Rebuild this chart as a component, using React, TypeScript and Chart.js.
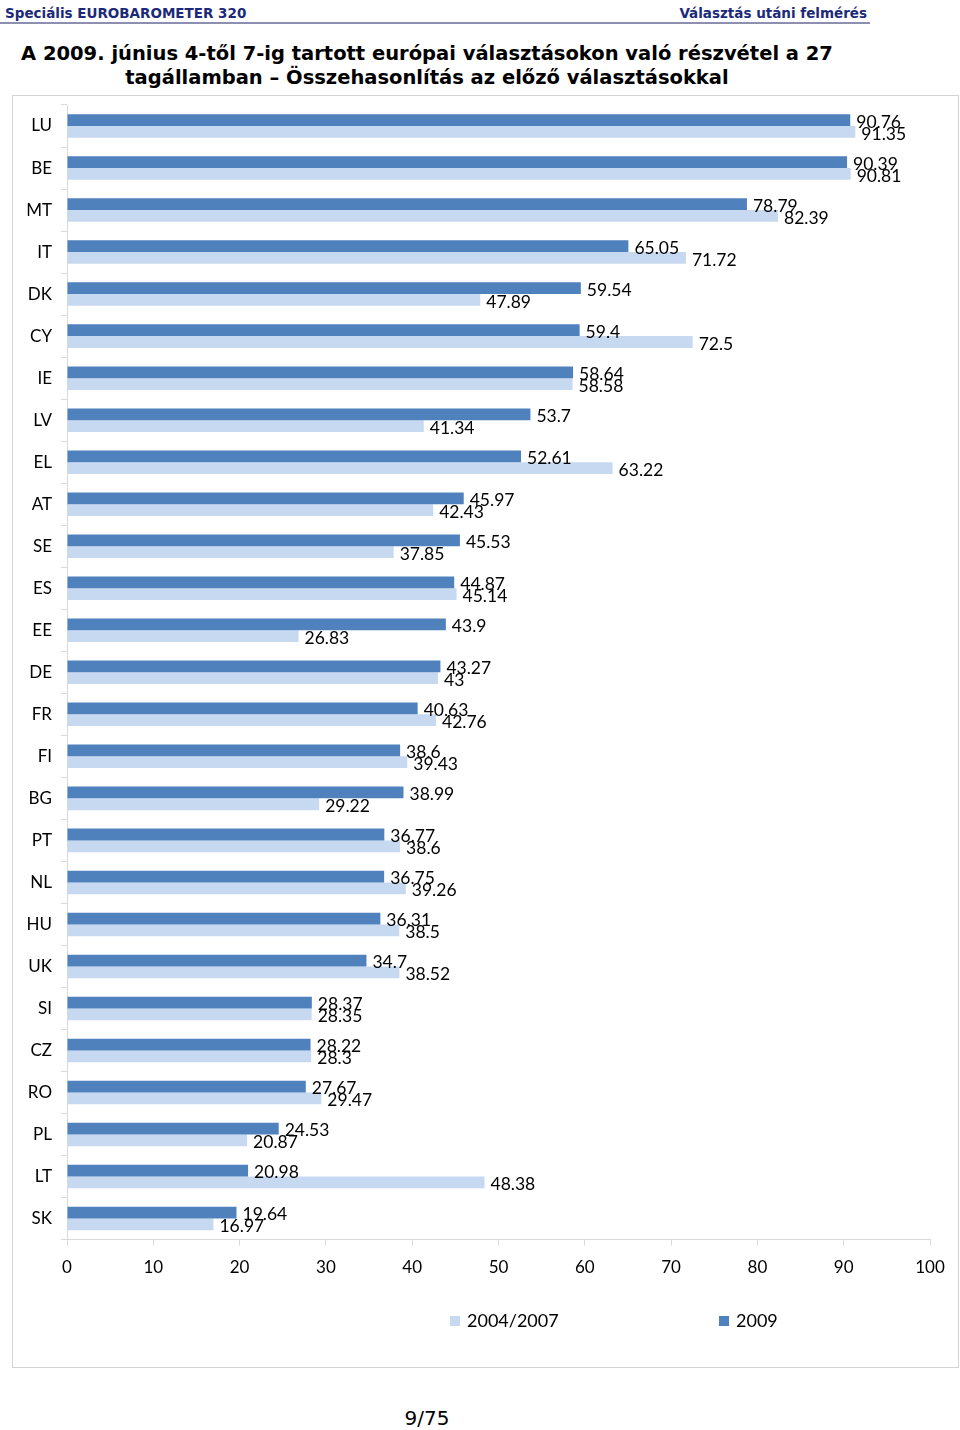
import React, { useEffect, useRef } from "react";
import { Chart, registerables } from "chart.js";

Chart.register(...registerables);

const countries = ["LU","BE","MT","IT","DK","CY","IE","LV","EL","AT","SE","ES","EE","DE","FR","FI","BG","PT","NL","HU","UK","SI","CZ","RO","PL","LT","SK"];
const values2009 = [90.76,90.39,78.79,65.05,59.54,59.4,58.64,53.7,52.61,45.97,45.53,44.87,43.9,43.27,40.63,38.6,38.99,36.77,36.75,36.31,34.7,28.37,28.22,27.67,24.53,20.98,19.64];
const valuesPrev = [91.35,90.81,82.39,71.72,47.89,72.5,58.58,41.34,63.22,42.43,37.85,45.14,26.83,43,42.76,39.43,29.22,38.6,39.26,38.5,38.52,28.35,28.3,29.47,20.87,48.38,16.97];
const seriesLabels = ["2009", "2004/2007"];
const seriesColors = ["#4F81BD", "#C6D9F1"];
const xMin = 0;
const xMax = 100;
const xStep = 10;

const FONT = "Lato, 'Open Sans', sans-serif";

const valueLabelPlugin = {
  id: "valueLabels",
  afterDatasetsDraw(chart: any) {
    const ctx = chart.ctx;
    ctx.save();
    ctx.font = `17.5px ${FONT}`;
    ctx.fillStyle = "#000";
    ctx.textAlign = "left";
    ctx.textBaseline = "middle";
    chart.data.datasets.forEach((ds: any, di: number) => {
      const meta = chart.getDatasetMeta(di);
      meta.data.forEach((bar: any, i: number) => {
        const v = ds.data[i];
        ctx.fillText(String(v), bar.x + 6, bar.y + 2);
      });
    });
    ctx.restore();
  },
};

const customLegendPlugin = {
  id: "customLegend",
  afterDraw(chart: any) {
    const ctx = chart.ctx;
    const ds = chart.data.datasets;
    const order = [1, 0];
    const xs = [437, 706];
    const yc = 1225;
    ctx.save();
    ctx.font = `18px ${FONT}`;
    ctx.textBaseline = "middle";
    ctx.textAlign = "left";
    order.forEach((di, k) => {
      const x = xs[k];
      ctx.fillStyle = ds[di].backgroundColor;
      ctx.fillRect(x, yc - 5, 10, 10);
      ctx.fillStyle = "#000";
      ctx.fillText(ds[di].label, x + 17, yc);
    });
    ctx.restore();
  },
};

function BarChart() {
  const ref = useRef<HTMLCanvasElement | null>(null);
  useEffect(() => {
    if (!ref.current) return;
    const chart = new Chart(ref.current, {
      type: "bar",
      data: {
        labels: countries,
        datasets: [
          { label: seriesLabels[0], data: values2009, backgroundColor: seriesColors[0], categoryPercentage: 0.56, barPercentage: 1.0 },
          { label: seriesLabels[1], data: valuesPrev, backgroundColor: seriesColors[1], categoryPercentage: 0.56, barPercentage: 1.0 },
        ],
      },
      options: {
        indexAxis: "y",
        animation: false,
        responsive: false,
        maintainAspectRatio: false,
        layout: { padding: { top: 9, right: 27, left: 0, bottom: 76 } },
        plugins: {
          legend: { display: false },
          tooltip: { enabled: false },
        },
        scales: {
          x: {
            min: xMin,
            max: xMax,
            ticks: { stepSize: xStep, color: "#000", font: { family: FONT, size: 17 }, padding: 12 },
            grid: { drawOnChartArea: false, drawTicks: true, tickLength: 6, color: "#d9d9d9" },
            border: { color: "#d9d9d9" },
            afterFit: (scale: any) => { scale.paddingLeft = 0; scale.paddingRight = 0; },
          },
          y: {
            ticks: { color: "#000", font: { family: FONT, size: 17 }, padding: 9 },
            grid: { offset: true, drawOnChartArea: false, drawTicks: true, tickLength: 6, color: "#d9d9d9" },
            border: { color: "#d9d9d9" },
            afterFit: (scale: any) => { scale.width = 54; scale.paddingTop = 0; scale.paddingBottom = 0; },
          },
        },
      },
      plugins: [valueLabelPlugin, customLegendPlugin],
    } as any);
    return () => chart.destroy();
  }, []);
  return <canvas ref={ref} width={944} height={1270} style={{ display: "block", width: 944, height: 1270 }} />;
}

export default function App() {
  useEffect(() => {
    document.body.style.margin = "0";
    document.documentElement.style.overflow = "hidden";
  }, []);
  const headerStyle: React.CSSProperties = {
    position: "absolute",
    top: 5,
    fontFamily: "'DejaVu Sans', Verdana, sans-serif",
    fontWeight: "bold",
    fontSize: 13.5,
    lineHeight: "16px",
    color: "#1b2a78",
    whiteSpace: "nowrap",
  };
  return (
    <div style={{ position: "relative", width: 960, height: 1430, overflow: "hidden", background: "#fff" }}>
      <div style={{ ...headerStyle, left: 5 }}>Speciális EUROBAROMETER 320</div>
      <div style={{ ...headerStyle, right: 960 - 867, textAlign: "right" }}>Választás utáni felmérés</div>
      <div style={{ position: "absolute", left: 0, top: 22, width: 870, height: 2, background: "#8c8fb0" }} />
      <div
        style={{
          position: "absolute",
          left: 0,
          top: 42,
          width: 854,
          textAlign: "center",
          fontFamily: "'DejaVu Sans', Verdana, sans-serif",
          fontWeight: "bold",
          fontSize: 19.5,
          lineHeight: "24px",
          color: "#000",
          whiteSpace: "nowrap",
        }}
      >
        A 2009. június 4-től 7-ig tartott európai választásokon való részvétel a 27
        <br />
        tagállamban – Összehasonlítás az előző választásokkal
      </div>
      <div
        style={{
          position: "absolute",
          left: 12,
          top: 95,
          width: 947,
          height: 1273,
          boxSizing: "border-box",
          border: "1px solid #d4d4d4",
          background: "#fff",
        }}
      >
        <BarChart />
      </div>
      <div
        style={{
          position: "absolute",
          left: 0,
          top: 1406,
          width: 854,
          textAlign: "center",
          fontFamily: "'DejaVu Sans', Verdana, sans-serif",
          fontSize: 20,
          lineHeight: "24px",
          color: "#000",
        }}
      >
        9/75
      </div>
    </div>
  );
}
